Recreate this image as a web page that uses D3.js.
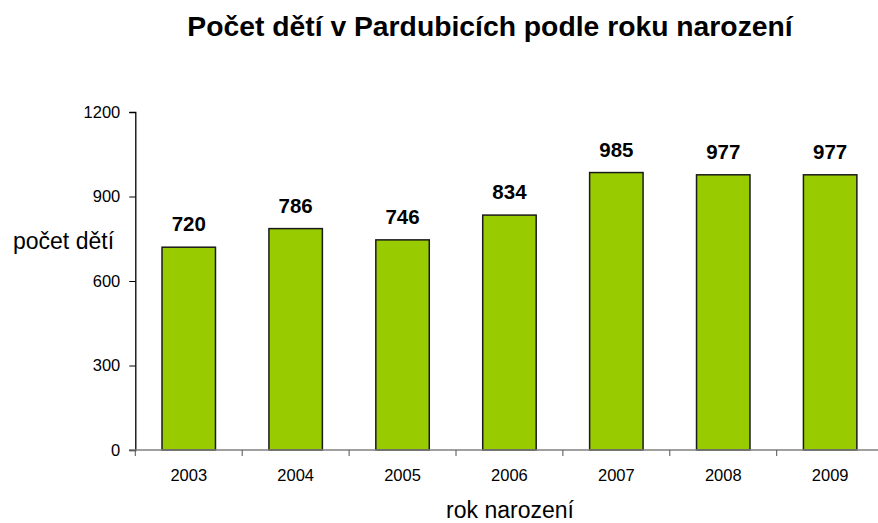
<!DOCTYPE html>
<html><head><meta charset="utf-8">
<script src="https://cdn.jsdelivr.net/npm/d3@7"></script>
<style>body{margin:0;background:#fff}svg{display:block;font-family:"Liberation Sans",Arial,sans-serif}</style>
</head><body><svg id="c" width="878" height="523"></svg>
<script>
const years = ["2003","2004","2005","2006","2007","2008","2009"];
const counts = [720, 786, 746, 834, 985, 977, 977];
const yTicks = [0, 300, 600, 900, 1200];
const title = "Počet dětí v Pardubicích podle roku narození";
const yLabel = "počet dětí";
const xLabel = "rok narození";

(function(){
const svg = d3.select("#c");
const FF = "Liberation Sans, Arial, sans-serif";
const left = 135.3, right = 883.6, plotTop = 112, bottom = 450;
const x = d3.scaleBand().domain(years).range([left, right]).paddingInner(0.5).paddingOuter(0.25);
const y = d3.scaleLinear().domain([0, 1200]).range([bottom, plotTop]);

svg.append("text").attr("x", 490).attr("y", 36).attr("text-anchor", "middle")
  .attr("font-size", 28.3).attr("font-weight", "bold").text(title);

// bars
svg.selectAll("rect.bar").data(counts).enter().append("rect")
  .attr("x", (d, i) => x(years[i])).attr("y", d => y(d))
  .attr("width", x.bandwidth()).attr("height", d => y(0) - y(d))
  .attr("fill", "#99cc00").attr("stroke", "#1a1a1a").attr("stroke-width", 1.5);

svg.selectAll("text.val").data(counts).enter().append("text")
  .attr("x", (d, i) => x(years[i]) + x.bandwidth() / 2).attr("y", d => y(d) - 16)
  .attr("text-anchor", "middle").attr("font-size", 20.5).attr("font-weight", "bold").text(d => d);

// y axis
const yAxis = svg.append("g").attr("transform", `translate(${left},0)`)
  .call(d3.axisLeft(y).tickValues(yTicks).tickFormat(d3.format("d")).tickSize(6).tickPadding(9));
yAxis.attr("font-family", FF).attr("font-size", 16.5);
yAxis.select(".domain").attr("stroke", "#000").attr("stroke-width", 1.3);
yAxis.selectAll(".tick line").attr("stroke", "#000");
yAxis.selectAll("text").attr("fill", "#000");

// x axis
const step = x.step();
const xAxisG = svg.append("g").attr("transform", `translate(0,${bottom})`);
xAxisG.append("line").attr("x1", left - 6).attr("x2", 878).attr("stroke", "#808080").attr("stroke-width", 1.5);
const bounds = d3.range(years.length + 1).map(i => left + i * step);
xAxisG.selectAll("line.t").data(bounds).enter().append("line")
  .attr("x1", d => d).attr("x2", d => d).attr("y1", 0).attr("y2", 6).attr("stroke", "#505050");
const xa = d3.axisBottom(x).tickSize(0).tickPadding(19);
const xg = svg.append("g").attr("transform", `translate(0,${bottom})`).call(xa);
xg.attr("font-family", FF).attr("font-size", 16.5);
xg.select(".domain").remove();
xg.selectAll("text").attr("fill", "#000");

svg.append("text").attr("x", 13).attr("y", 249).attr("font-size", 23).text(yLabel);
svg.append("text").attr("x", 510).attr("y", 518).attr("text-anchor", "middle").attr("font-size", 23).text(xLabel);
})();
</script></body></html>
